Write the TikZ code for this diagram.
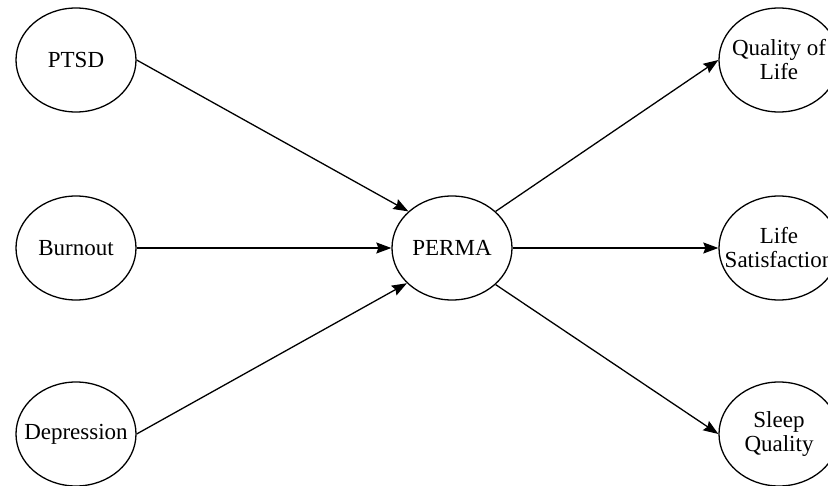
\documentclass[tikz,border=0pt]{standalone}
\usepackage{fontspec}
\setmainfont{Liberation Serif}
\usetikzlibrary{shapes.geometric,arrows.meta}

\tikzset{
  construct/.style={ellipse, draw=black, line width=1.3pt, fill=white,
    minimum width=120pt, minimum height=104pt, inner sep=0pt,
    label={[align=center, font=\fontsize{23}{24}\selectfont]center:#1}},
  path/.style={line width=1.3pt, -{Stealth[length=15pt,width=11pt,inset=2pt]}}
}

\begin{document}
\begin{tikzpicture}[x=1pt,y=-1pt]
  % Frame (the right column is cut off at the edge)
  \useasboundingbox (0,0) rectangle (828,486);
  \clip (0,0) rectangle (828,486);
  \fill[white] (0,0) rectangle (828,486);

  % Predictors
  \node[construct=PTSD]       (ptsd)    at (76,60)  {};
  \node[construct=Burnout]    (burnout) at (76,248) {};
  \node[construct=Depression] (depr)    at (76,434) {};

  % Mediator
  \node[construct=PERMA]      (perma)   at (452,248) {};

  % Outcomes
  \node[construct={Quality of\\Life}]     (qol)     at (779,60)  {};
  \node[construct={Life\\Satisfaction}]   (lifesat) at (779,248) {};
  \node[construct={Sleep\\Quality}]       (sleep)   at (779,434) {};

  % Paths into PERMA
  \draw[path] (ptsd.east)    -- (perma.140);
  \draw[path] (burnout.east) -- (perma.west);
  \draw[path] (depr.east)    -- (perma.-142);

  % Paths out of PERMA
  \draw[path] (perma.40)   -- (qol.west);
  \draw[path] (perma.east) -- (lifesat.west);
  \draw[path] (perma.-40)  -- (sleep.west);
\end{tikzpicture}
\end{document}
